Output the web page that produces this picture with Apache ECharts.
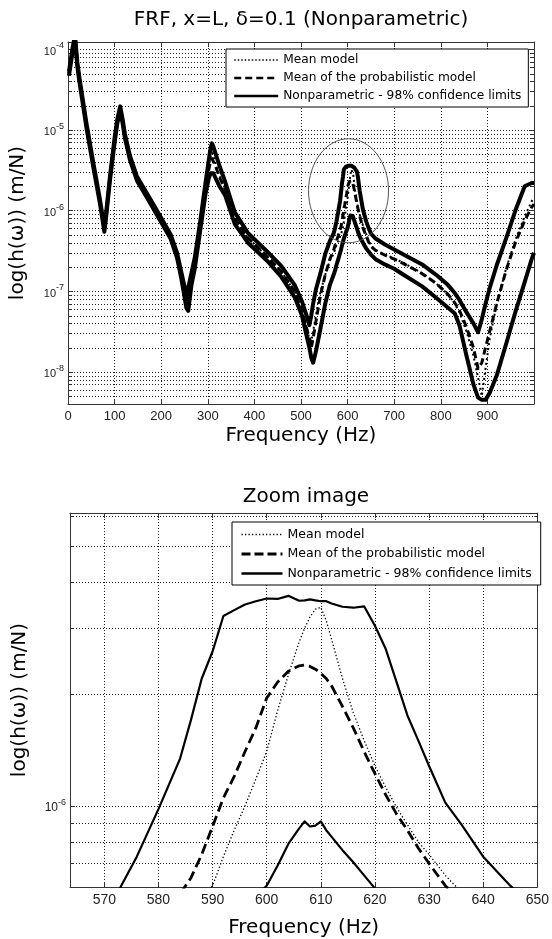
<!DOCTYPE html>
<html><head><meta charset="utf-8">
<script src="https://cdn.jsdelivr.net/npm/echarts@6/dist/echarts.min.js"></script>
<style>html,body{margin:0;padding:0;background:#fff}#c{width:552px;height:939px}</style>
</head><body><div id="c"></div>
<script>
// ---------------- data ----------------
const freq = [
  2, 6, 10, 15, 20, 25, 32, 40, 48, 55, 62, 68, 74, 78, 82, 90, 100, 106, 112, 117, 122, 133, 148, 169, 198, 220, 234, 243,
  250, 254, 258, 265, 272, 284, 295, 302, 306, 309, 312, 317, 325, 337,
  358, 386, 430, 458, 487, 502, 512, 518, 522, 526, 532, 542, 552, 562,
  570, 573, 576, 580, 584, 586, 588, 590, 592, 594, 596, 598, 600, 602, 604, 606, 607, 608, 609, 610, 611, 612, 614, 616, 618, 620, 622, 624, 626, 628, 630, 633, 636, 640, 645, 650,
  660, 680, 700, 720, 760, 790, 815, 830, 840, 855, 870, 880, 888, 896, 905, 920, 940, 960, 980, 995, 1000
];
const meanModel = [
  5.0e-5, 7.0e-5, 1.0e-4, 1.4e-4, 6.5e-5, 4.0e-5, 2.2e-5, 1.1e-5, 6.0e-6, 3.5e-6, 2.1e-6, 1.35e-6, 8.2e-7, 5.8e-7, 9.0e-7, 2.5e-6, 7.5e-6, 1.3e-5, 1.85e-5, 1.3e-5, 8.5e-6, 4.5e-6, 2.5e-6, 1.55e-6, 8.0e-7, 4.8e-7, 2.8e-7, 1.6e-7,
  1.0e-7, 7.0e-8, 9.0e-8, 1.5e-7, 2.3e-7, 7.0e-7, 2.0e-6, 3.6e-6, 4.8e-6, 5.6e-6, 4.8e-6, 3.7e-6, 2.7e-6, 1.9e-6,
  8.0e-7, 4.6e-7, 2.6e-7, 1.75e-7, 9.8e-8, 5.8e-8, 3.5e-8, 2.6e-8, 2.4e-8, 3.2e-8, 5.0e-8, 1.0e-7, 1.6e-7, 2.4e-7,
  2.9e-7, 3.3e-7, 3.7e-7, 4.2e-7, 4.8e-7, 5.2e-7, 5.6e-7, 6.1e-7, 7.3e-7, 8.6e-7, 1.0e-6, 1.18e-6, 1.4e-6, 1.8e-6, 2.25e-6, 2.76e-6, 3.0e-6, 3.22e-6, 3.38e-6, 3.42e-6, 3.15e-6, 2.8e-6, 2.2e-6, 1.78e-6, 1.5e-6, 1.28e-6, 1.12e-6, 9.9e-7, 8.9e-7, 8.0e-7, 7.4e-7, 6.5e-7, 5.85e-7, 5.1e-7, 4.3e-7, 3.7e-7,
  3.25e-7, 2.85e-7, 2.55e-7, 2.25e-7, 1.68e-7, 1.25e-7, 9.2e-8, 7.0e-8, 5.5e-8, 3.2e-8, 1.6e-8, 8.5e-9, 5.0e-9, 1.1e-8, 2.6e-8, 7.0e-8, 1.9e-7, 4.3e-7, 8.5e-7, 1.3e-6, 1.45e-6
];
const meanProb = [
  5.0e-5, 7.0e-5, 1.0e-4, 1.4e-4, 6.5e-5, 4.0e-5, 2.2e-5, 1.1e-5, 6.0e-6, 3.5e-6, 2.1e-6, 1.35e-6, 8.2e-7, 5.8e-7, 9.0e-7, 2.5e-6, 7.4e-6, 1.28e-5, 1.8e-5, 1.3e-5, 8.5e-6, 4.5e-6, 2.5e-6, 1.55e-6, 8.0e-7, 4.8e-7, 2.8e-7, 1.6e-7,
  1.0e-7, 7.2e-8, 8.8e-8, 1.45e-7, 2.25e-7, 6.8e-7, 1.9e-6, 3.2e-6, 4.1e-6, 4.4e-6, 4.2e-6, 3.5e-6, 2.6e-6, 1.85e-6,
  8.0e-7, 4.6e-7, 2.6e-7, 1.75e-7, 9.8e-8, 5.8e-8, 3.5e-8, 2.6e-8, 2.0e-8, 2.6e-8, 4.2e-8, 9.0e-8, 1.6e-7, 2.5e-7,
  3.2e-7, 3.7e-7, 4.2e-7, 4.9e-7, 5.8e-7, 6.4e-7, 7.4e-7, 8.8e-7, 1.05e-6, 1.2e-6, 1.4e-6, 1.62e-6, 1.95e-6, 2.15e-6, 2.3e-6, 2.38e-6, 2.39e-6, 2.37e-6, 2.33e-6, 2.27e-6, 2.2e-6, 2.1e-6, 1.85e-6, 1.62e-6, 1.4e-6, 1.22e-6, 1.07e-6, 9.5e-7, 8.6e-7, 7.7e-7, 7.0e-7, 6.1e-7, 5.5e-7, 4.8e-7, 4.1e-7, 3.6e-7,
  3.2e-7, 2.8e-7, 2.5e-7, 2.2e-7, 1.65e-7, 1.25e-7, 9.2e-8, 7.2e-8, 5.8e-8, 3.6e-8, 2.0e-8, 1.1e-8, 1.3e-8, 2.0e-8, 3.2e-8, 7.0e-8, 1.8e-7, 4.0e-7, 7.5e-7, 1.1e-6, 1.2e-6
];
const upperLimit = [
  5.3e-5, 7.4e-5, 1.06e-4, 1.48e-4, 6.9e-5, 4.25e-5, 2.33e-5, 1.17e-5, 6.4e-6, 3.72e-6, 2.23e-6, 1.44e-6, 8.7e-7, 6.2e-7, 9.6e-7, 2.65e-6, 8.0e-6, 1.38e-5, 1.96e-5, 1.38e-5, 9.0e-6, 4.77e-6, 2.65e-6, 1.65e-6, 8.5e-7, 5.1e-7, 3.0e-7, 1.75e-7,
  1.15e-7, 9.0e-8, 1.1e-7, 1.7e-7, 2.6e-7, 7.5e-7, 2.2e-6, 4.2e-6, 6.0e-6, 6.8e-6, 6.2e-6, 5.0e-6, 3.6e-6, 2.3e-6,
  9.5e-7, 5.3e-7, 3.0e-7, 2.05e-7, 1.18e-7, 7.5e-8, 5.0e-8, 3.8e-8, 5.0e-8, 7.0e-8, 1.05e-7, 1.7e-7, 2.9e-7, 4.2e-7,
  5.2e-7, 6.05e-7, 7.3e-7, 9.8e-7, 1.34e-6, 1.7e-6, 2.2e-6, 2.6e-6, 3.24e-6, 3.36e-6, 3.48e-6, 3.55e-6, 3.61e-6, 3.6e-6, 3.67e-6, 3.56e-6, 3.57e-6, 3.59e-6, 3.57e-6, 3.55e-6, 3.55e-6, 3.5e-6, 3.43e-6, 3.41e-6, 3.44e-6, 3.05e-6, 2.64e-6, 2.15e-6, 1.75e-6, 1.5e-6, 1.28e-6, 1.02e-6, 8.9e-7, 7.3e-7, 6.1e-7, 5.2e-7,
  4.5e-7, 3.8e-7, 3.3e-7, 2.85e-7, 2.15e-7, 1.6e-7, 1.2e-7, 9.5e-8, 7.8e-8, 5.5e-8, 4.0e-8, 3.1e-8, 4.5e-8, 7.0e-8, 1.1e-7, 2.1e-7, 4.5e-7, 1.0e-6, 2.0e-6, 2.2e-6, 2.2e-6
];
const lowerLimit = [
  4.7e-5, 6.6e-5, 9.4e-5, 1.32e-4, 6.1e-5, 3.76e-5, 2.07e-5, 1.03e-5, 5.6e-6, 3.28e-6, 1.97e-6, 1.27e-6, 7.7e-7, 5.45e-7, 8.5e-7, 2.35e-6, 7.0e-6, 1.22e-5, 1.74e-5, 1.22e-5, 8.0e-6, 4.23e-6, 2.35e-6, 1.46e-6, 7.5e-7, 4.5e-7, 2.6e-7, 1.45e-7,
  8.5e-8, 6.2e-8, 5.7e-8, 1.2e-7, 1.9e-7, 5.8e-7, 1.6e-6, 2.5e-6, 2.9e-6, 3.0e-6, 2.9e-6, 2.5e-6, 2.0e-6, 1.55e-6,
  6.8e-7, 4.0e-7, 2.3e-7, 1.5e-7, 8.3e-8, 5.0e-8, 2.8e-8, 2.0e-8, 1.5e-8, 1.3e-8, 1.8e-8, 3.5e-8, 7.0e-8, 1.2e-7,
  1.6e-7, 1.8e-7, 2.1e-7, 2.5e-7, 3.0e-7, 3.3e-7, 3.7e-7, 4.1e-7, 4.5e-7, 4.9e-7, 5.3e-7, 5.7e-7, 6.1e-7, 6.9e-7, 7.9e-7, 8.7e-7, 9.08e-7, 8.8e-7, 8.85e-7, 9.08e-7, 8.6e-7, 8.25e-7, 7.6e-7, 7.05e-7, 6.5e-7, 6.0e-7, 5.5e-7, 5.1e-7, 4.8e-7, 4.5e-7, 4.3e-7, 4.0e-7, 3.7e-7, 3.4e-7, 3.1e-7, 2.85e-7,
  2.5e-7, 2.15e-7, 1.9e-7, 1.6e-7, 1.15e-7, 8.3e-8, 6.3e-8, 5.3e-8, 3.8e-8, 1.6e-8, 7.0e-9, 4.8e-9, 4.5e-9, 4.5e-9, 5.5e-9, 9.0e-9, 2.2e-8, 5.5e-8, 1.3e-7, 2.5e-7, 3.0e-7
];
const seriesNames = ['Mean model', 'Mean of the probabilistic model', 'Nonparametric - 98% confidence limits'];
const minorMult = [2, 3, 4, 5, 6, 7, 8, 9];
const topDecades = [-9, -8, -7, -6, -5, -4];
const botDecades = [-7, -6];
const topRange = { xMin: 0, xMax: 1000, yMin: 4e-9, yMax: 1.23e-4 };
const botRange = { xMin: 563.66, xMax: 650, yMin: 6.05e-7, yMax: 6.13e-6 };

// ---------------- helpers ----------------
const pairs = vals => freq.map((f, i) => [f, vals[i]]);
function minorVals(decs, lo, hi) {
  const out = [];
  decs.forEach(d => minorMult.forEach(m => {
    const v = m * Math.pow(10, d);
    if (v > lo * 1.0001 && v < hi * 0.9999) out.push(v);
  }));
  return out;
}
const BOX = '#333';
const GRID = '#222';
function powLabel(v) {
  const l = Math.log10(v), e = Math.round(l);
  if (Math.abs(l - e) > 1e-6) return '';
  return '{b|10}{s|' + e + '}';
}
function xAxes(gi, r, fontSize, nameGap, extra) {
  const common = {
    type: 'value', gridIndex: gi, min: r.xMin, max: r.xMax,
    axisLine: { show: true, onZero: false, lineStyle: { color: BOX, width: 1 } },
    axisTick: { show: true, inside: true, length: 5, lineStyle: { color: BOX } }
  };
  return [
    Object.assign({}, common, extra, {
      position: 'bottom',
      axisLabel: { show: true, fontFamily: 'Liberation Sans', fontSize: fontSize, color: '#222', margin: 6,
        formatter: v => (Math.abs(v - Math.round(v / 10) * 10) < 1e-6 && v < 999 && (gi === 0 ? v % 100 === 0 : true)) ? String(Math.round(v)) : '' },
      splitLine: { show: true, lineStyle: { color: GRID, width: 1, type: [1, 2] } },
      name: 'Frequency (Hz)', nameLocation: 'middle', nameGap: nameGap,
      nameTextStyle: { fontFamily: 'DejaVu Sans', fontSize: 20, color: '#000' }
    }),
    Object.assign({}, common, extra, {
      position: 'top', axisLabel: { show: false }, splitLine: { show: false }
    })
  ];
}
function yAxes(gi, r, bFont, sFont, nameGap) {
  const common = {
    type: 'log', logBase: 10, gridIndex: gi, min: r.yMin, max: r.yMax,
    axisLine: { show: true, onZero: false, lineStyle: { color: BOX, width: 1 } },
    axisTick: { show: true, inside: true, length: 5, lineStyle: { color: BOX } }
  };
  return [
    Object.assign({}, common, {
      position: 'left',
      axisLabel: { show: true, margin: 4, formatter: powLabel,
        rich: {
          b: { fontFamily: 'Liberation Sans', fontSize: bFont, color: '#222', verticalAlign: 'bottom' },
          s: { fontFamily: 'Liberation Sans', fontSize: sFont, color: '#222', verticalAlign: 'top', padding: [0, 0, 7, 0] }
        } },
      splitLine: { show: true, lineStyle: { color: GRID, width: 1, type: [1, 2] } },
      name: 'log(h(\u03c9)) (m/N)', nameLocation: 'middle', nameGap: nameGap, nameRotate: 90,
      nameTextStyle: { fontFamily: 'DejaVu Sans', fontSize: 20, color: '#000' }
    }),
    Object.assign({}, common, {
      position: 'right', axisLabel: { show: false }, splitLine: { show: false }
    })
  ];
}
function gridHelper(gi, xRef, vals) {
  return {
    type: 'custom', xAxisIndex: gi * 2, yAxisIndex: gi * 2, silent: true, z: 1, clip: false,
    data: vals.map(v => [xRef, v]),
    renderItem(params, api) {
      const p = api.coord([api.value(0), api.value(1)]);
      const cs = params.coordSys;
      const y = Math.round(p[1]) + 0.5;
      const x0 = cs.x, x1 = cs.x + cs.width;
      return { type: 'group', children: [
        { type: 'line', shape: { x1: x0, y1: y, x2: x1, y2: y }, style: { stroke: GRID, lineWidth: 1, lineDash: [1, 2] } },
        { type: 'line', shape: { x1: x0, y1: y, x2: x0 + 3, y2: y }, style: { stroke: BOX, lineWidth: 1 } },
        { type: 'line', shape: { x1: x1 - 3, y1: y, x2: x1, y2: y }, style: { stroke: BOX, lineWidth: 1 } }
      ] };
    }
  };
}
function lines(gi, w) {
  const ax = { xAxisIndex: gi * 2, yAxisIndex: gi * 2 };
  const base = { type: 'line', symbol: 'none', showSymbol: false, animation: false, clip: true, z: 3,
    itemStyle: { color: '#000' } };
  return [
    Object.assign({}, base, ax, { name: seriesNames[0], data: pairs(meanModel),
      lineStyle: { color: '#000', width: w.dot, type: w.dotDash, join: 'round' } }),
    Object.assign({}, base, ax, { name: seriesNames[1], data: pairs(meanProb),
      lineStyle: { color: '#000', width: w.dash, type: w.dashDash, join: 'round' } }),
    Object.assign({}, base, ax, { name: seriesNames[2], data: pairs(upperLimit),
      lineStyle: { color: '#000', width: w.solid, type: 'solid', join: 'round' } }),
    Object.assign({}, base, ax, { name: seriesNames[2], data: pairs(lowerLimit),
      lineStyle: { color: '#000', width: w.solid, type: 'solid', join: 'round' } })
  ];
}

const topX = xAxes(0, topRange, 13, 22, { interval: 100 });
const botX = xAxes(1, botRange, 14, 31, { splitNumber: 9 });
const topY = yAxes(0, topRange, 11, 9, 40);
const botY = yAxes(1, botRange, 12, 9, 40);

const legendCommon = {
  orient: 'vertical', itemHeight: 14, borderColor: '#000', borderWidth: 1, backgroundColor: '#fff',
  borderRadius: 0, selectedMode: false, itemStyle: { opacity: 0, borderWidth: 0 }, lineStyle: { width: 'inherit' }
};

const chart = echarts.init(document.getElementById('c'), null, { renderer: 'canvas', width: 552, height: 939 });
chart.setOption({
  animation: false,
  backgroundColor: '#fff',
  textStyle: { fontFamily: 'Liberation Sans' },
  title: [
    { text: 'FRF, x=L, \u03b4=0.1 (Nonparametric)', left: 301, textAlign: 'center', top: 10, padding: 0,
      textStyle: { fontFamily: 'DejaVu Sans', fontSize: 20, fontWeight: 'normal', color: '#000' } },
    { text: 'Zoom image', left: 306, textAlign: 'center', top: 487, padding: 0,
      textStyle: { fontFamily: 'DejaVu Sans', fontSize: 20, fontWeight: 'normal', color: '#000' } }
  ],
  legend: [
    Object.assign({}, legendCommon, { left: 226, top: 49, padding: [5, 7, 5, 7], itemGap: 6, itemWidth: 44,
      textStyle: { fontFamily: 'DejaVu Sans', fontSize: 12.2, color: '#000' },
      data: [
        { name: seriesNames[0], lineStyle: { width: 1.5, type: [1.5, 2] } },
        { name: seriesNames[1], lineStyle: { width: 2.5, type: [7, 4] } },
        { name: seriesNames[2], lineStyle: { width: 2.5, type: 'solid' } }
      ] }),
    Object.assign({}, legendCommon, { left: 232, top: 522, padding: [6, 9, 5, 8], itemGap: 6.5, itemWidth: 41,
      textStyle: { fontFamily: 'DejaVu Sans', fontSize: 12.5, color: '#000' },
      data: [
        { name: seriesNames[0], lineStyle: { width: 1.3, type: [1.3, 2.2] } },
        { name: seriesNames[1], lineStyle: { width: 3, type: [9, 4] } },
        { name: seriesNames[2], lineStyle: { width: 2.5, type: 'solid' } }
      ] })
  ],
  grid: [
    { left: 68, top: 42, width: 466, height: 362, containLabel: false },
    { left: 70, top: 513, width: 473, height: 376, containLabel: false }
  ],
  xAxis: [topX[0], topX[1], botX[0], botX[1]],
  yAxis: [topY[0], topY[1], botY[0], botY[1]],
  series: [
    gridHelper(0, 500, minorVals(topDecades, topRange.yMin, topRange.yMax)),
    gridHelper(1, 600, minorVals(botDecades, botRange.yMin, botRange.yMax))
  ].concat(
    lines(0, { dot: 2, dotDash: [2, 3], dash: 3, dashDash: [7, 4], solid: 4 }),
    lines(1, { dot: 1.3, dotDash: [1.3, 2.2], dash: 2.8, dashDash: [10, 5], solid: 2.2 })
  )
});

// annotation ellipse around the 600 Hz resonance (placed in data coordinates)
const ctr = chart.convertToPixel({ gridIndex: 0 }, [602, 1.76e-6]);
chart.setOption({
  graphic: [{ type: 'ellipse', silent: true, z: 10,
    shape: { cx: ctr[0], cy: ctr[1], rx: 40, ry: 52 },
    style: { fill: 'none', stroke: '#555', lineWidth: 1 } }]
});
</script>
</body></html>
